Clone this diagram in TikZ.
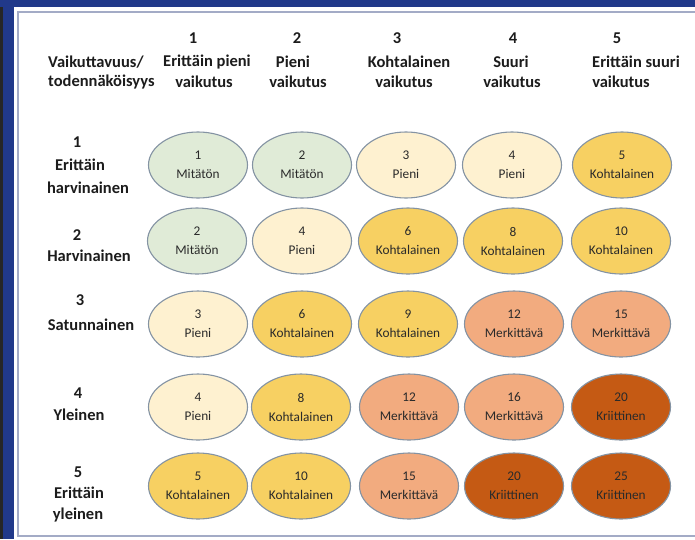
\documentclass[tikz,border=0pt]{standalone}
\usepackage{fontspec}
\setmainfont{Carlito}
\usetikzlibrary{shapes.geometric}
\definecolor{navy}{HTML}{21398A}
\definecolor{frameline}{HTML}{A3ABC6}
\definecolor{edgec}{HTML}{8493A3}
\definecolor{txt}{HTML}{1C1C1C}
\definecolor{ctx}{HTML}{2A2A2A}
\definecolor{cgr}{HTML}{E0EBD7}
\definecolor{cpi}{HTML}{FEF1D0}
\definecolor{cko}{HTML}{F7D062}
\definecolor{cme}{HTML}{F2AB7F}
\definecolor{ckr}{HTML}{C55A14}
\tikzset{
  cell/.style={ellipse, draw=edgec, line width=1.1pt, minimum width=99pt, minimum height=66pt,
    inner sep=0pt, align=center, font=\fontsize{13.3}{19}\selectfont, text=ctx},
  hd/.style={inner sep=0pt, text=txt, font=\bfseries\fontsize{16.5}{20}\selectfont},
}
\begin{document}
\begin{tikzpicture}[x=1pt,y=-1pt]
\useasboundingbox (0,0) rectangle (695,539);
\fill[white] (0,0) rectangle (695,539);
% frame
\fill[navy] (0,0) rectangle (695,7);
\fill[navy] (0,0) rectangle (14,539);
\fill[black!85] (0,7) rectangle (2.5,539);
\draw[frameline, line width=1.8pt] (695,12) -- (18,12) -- (18,536) -- (695,536);
% header
\node[hd, anchor=west] (h0a) at (48,62) {Vaikuttavuus/};
\node[hd, anchor=west] (h0b) at (48,82) {todennäköisyys};
\node[hd] (h1n) at (193,38) {1};
\node[hd] (h1a) at (207,62) {Erittäin pieni};
\node[hd] (h1b) at (204,82) {vaikutus};
\node[hd] (h2n) at (297,38) {2};
\node[hd] (h2a) at (293,62) {Pieni};
\node[hd] (h2b) at (298,82) {vaikutus};
\node[hd] (h3n) at (397,38) {3};
\node[hd] (h3a) at (409,62) {Kohtalainen};
\node[hd] (h3b) at (404,82) {vaikutus};
\node[hd] (h4n) at (513,38) {4};
\node[hd] (h4a) at (511,62) {Suuri};
\node[hd] (h4b) at (512,82) {vaikutus};
\node[hd] (h5n) at (617,38) {5};
\node[hd] (h5a) at (636,62) {Erittäin suuri};
\node[hd] (h5b) at (621,82) {vaikutus};
% row labels
\node[hd] (r1n) at (77,142) {1};
\node[hd] (r1a) at (80,165) {Erittäin};
\node[hd] (r1b) at (88,188) {harvinainen};
\node[hd] (r2n) at (77,235) {2};
\node[hd] (r2a) at (89,256) {Harvinainen};
\node[hd] (r3n) at (80,300) {3};
\node[hd] (r3a) at (91,325) {Satunnainen};
\node[hd] (r4n) at (78,393) {4};
\node[hd] (r4a) at (79,415) {Yleinen};
\node[hd] (r5n) at (78,472) {5};
\node[hd] (r5a) at (79,493) {Erittäin};
\node[hd] (r5b) at (78,515) {yleinen};
% cells row 1
\node[cell, fill=cgr] (c11) at (198,165) {1\\Mitätön};
\node[cell, fill=cgr] (c12) at (302,165) {2\\Mitätön};
\node[cell, fill=cpi] (c13) at (406,165) {3\\Pieni};
\node[cell, fill=cpi] (c14) at (512,165) {4\\Pieni};
\node[cell, fill=cko] (c15) at (622,165) {5\\Kohtalainen};
% row 2
\node[cell, fill=cgr] (c21) at (197,241) {2\\Mitätön};
\node[cell, fill=cpi] (c22) at (302,241) {4\\Pieni};
\node[cell, fill=cko] (c23) at (408,241) {6\\Kohtalainen};
\node[cell, fill=cko] (c24) at (513,241) {8\\Kohtalainen};
\node[cell, fill=cko] (c25) at (621,241) {10\\Kohtalainen};
% row 3
\node[cell, fill=cpi] (c31) at (198,324) {3\\Pieni};
\node[cell, fill=cko] (c32) at (302,324) {6\\Kohtalainen};
\node[cell, fill=cko] (c33) at (408,324) {9\\Kohtalainen};
\node[cell, fill=cme] (c34) at (514,324) {12\\Merkittävä};
\node[cell, fill=cme] (c35) at (621,324) {15\\Merkittävä};
% row 4
\node[cell, fill=cpi] (c41) at (198,407) {4\\Pieni};
\node[cell, fill=cko] (c42) at (301,407) {8\\Kohtalainen};
\node[cell, fill=cme] (c43) at (409,407) {12\\Merkittävä};
\node[cell, fill=cme] (c44) at (514,407) {16\\Merkittävä};
\node[cell, fill=ckr] (c45) at (621,407) {20\\Kriittinen};
% row 5
\node[cell, fill=cko] (c51) at (198,486) {5\\Kohtalainen};
\node[cell, fill=cko] (c52) at (301,486) {10\\Kohtalainen};
\node[cell, fill=cme] (c53) at (409,486) {15\\Merkittävä};
\node[cell, fill=ckr] (c54) at (514,486) {20\\Kriittinen};
\node[cell, fill=ckr] (c55) at (621,486) {25\\Kriittinen};
\end{tikzpicture}
\end{document}
